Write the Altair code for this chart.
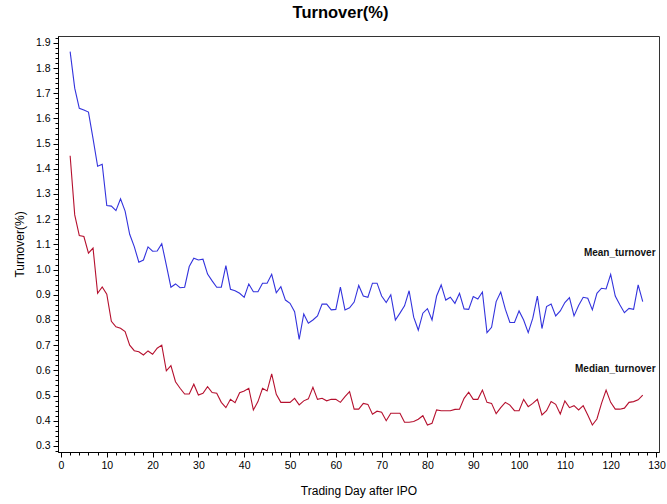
import altair as alt
import pandas as pd

days = list(range(2, 128))

mean_turnover = [
    1.865, 1.72, 1.64, 1.633, 1.625, 1.52, 1.41, 1.418, 1.254, 1.252,
    1.234, 1.281, 1.232, 1.14, 1.091, 1.029, 1.038, 1.09, 1.073, 1.074,
    1.103, 1.018, 0.93, 0.943, 0.928, 0.93, 1.012, 1.045, 1.038, 1.041,
    0.982, 0.955, 0.93, 0.93, 1.016, 0.922, 0.916, 0.906, 0.89, 0.943,
    0.912, 0.912, 0.946, 0.946, 0.981, 0.908, 0.932, 0.879, 0.866, 0.833,
    0.723, 0.824, 0.787, 0.80, 0.816, 0.863, 0.863, 0.84, 0.842, 0.93,
    0.84, 0.848, 0.871, 0.937, 0.895, 0.89, 0.946, 0.946, 0.895, 0.869,
    0.90, 0.80, 0.827, 0.856, 0.916, 0.811, 0.76, 0.827, 0.845, 0.80,
    0.895, 0.939, 0.879, 0.89, 0.866, 0.906, 0.844, 0.842, 0.893, 0.883,
    0.911, 0.75, 0.771, 0.873, 0.911, 0.843, 0.79, 0.79, 0.836, 0.80,
    0.75, 0.807, 0.895, 0.766, 0.853, 0.863, 0.816, 0.836, 0.869, 0.889,
    0.816, 0.857, 0.89, 0.886, 0.84, 0.906, 0.926, 0.923, 0.981, 0.895,
    0.86, 0.829, 0.846, 0.842, 0.939, 0.873,
]

median_turnover = [
    1.452, 1.217, 1.135, 1.131, 1.065, 1.085, 0.906, 0.931, 0.902, 0.795,
    0.773, 0.767, 0.754, 0.70, 0.678, 0.674, 0.661, 0.677, 0.664, 0.688,
    0.70, 0.598, 0.619, 0.555, 0.529, 0.506, 0.506, 0.545, 0.502, 0.509,
    0.535, 0.512, 0.509, 0.473, 0.452, 0.485, 0.472, 0.511, 0.518, 0.529,
    0.443, 0.476, 0.529, 0.518, 0.586, 0.505, 0.473, 0.473, 0.473, 0.489,
    0.463, 0.479, 0.487, 0.533, 0.485, 0.489, 0.479, 0.485, 0.485, 0.473,
    0.496, 0.516, 0.446, 0.446, 0.469, 0.465, 0.426, 0.438, 0.434, 0.40,
    0.43, 0.43, 0.43, 0.394, 0.394, 0.397, 0.406, 0.42, 0.383, 0.39,
    0.443, 0.44, 0.44, 0.44, 0.445, 0.446, 0.489, 0.513, 0.485, 0.485,
    0.522, 0.473, 0.469, 0.428, 0.452, 0.473, 0.462, 0.44, 0.44, 0.485,
    0.456, 0.469, 0.485, 0.423, 0.44, 0.476, 0.465, 0.427, 0.479, 0.452,
    0.46, 0.443, 0.46, 0.423, 0.383, 0.407, 0.469, 0.522, 0.473, 0.446,
    0.446, 0.45, 0.473, 0.476, 0.483, 0.502,
]

series_names = ["Mean_turnover", "Median_turnover"]
series_colors = ["#3333dd", "#b5102e"]

x_major_ticks = list(range(0, 131, 10))
x_minor_ticks = list(range(0, 131, 2))
y_major_ticks = [round(0.3 + 0.1 * i, 1) for i in range(17)]
y_minor_ticks = [round(0.28 + 0.02 * i, 2) for i in range(83)]

label_x = [129.8, 129.8]
label_y = [1.065, 0.605]

df = pd.DataFrame({
    "day": days + days,
    "value": mean_turnover + median_turnover,
    "series": [series_names[0]] * len(days) + [series_names[1]] * len(days),
})
labels_df = pd.DataFrame({"series": series_names, "x": label_x, "y": label_y})

FONT = "Liberation Sans"
xs = alt.Scale(domain=[-0.65, 130.55], nice=False, zero=False)
ys = alt.Scale(domain=[0.276, 1.927], nice=False, zero=False)

major_x = alt.Axis(values=x_major_ticks, orient="bottom", tickSize=5, labelPadding=3,
                   title="Trading Day after IPO", titlePadding=15, grid=False,
                   labelFontSize=10.5, titleFontSize=12, titleFontWeight="normal",
                   labelFont=FONT, titleFont=FONT, domainColor="black",
                   tickColor="black", labelColor="black", titleColor="black")
major_y = alt.Axis(values=y_major_ticks, orient="left", tickSize=5, labelPadding=3,
                   format=".1f", title="Turnover(%)", titlePadding=9, grid=False,
                   labelFontSize=10.5, titleFontSize=12, titleFontWeight="normal",
                   labelFont=FONT, titleFont=FONT, domainColor="black",
                   tickColor="black", labelColor="black", titleColor="black")
minor_x = alt.Axis(values=x_minor_ticks, orient="bottom", tickSize=3, labels=False,
                   domain=False, grid=False, title=None, tickColor="black")
minor_y = alt.Axis(values=y_minor_ticks, orient="left", tickSize=3, labels=False,
                   domain=False, grid=False, title=None, tickColor="black")

color = alt.Color("series:N", scale=alt.Scale(domain=series_names, range=series_colors),
                  legend=None)

minor = alt.Chart(df).mark_line(opacity=0).encode(
    x=alt.X("day:Q", scale=xs, axis=minor_x),
    y=alt.Y("value:Q", scale=ys, axis=minor_y),
    detail="series:N",
)

lines = alt.Chart(df).mark_line(strokeWidth=1.1).encode(
    x=alt.X("day:Q", scale=xs, axis=major_x),
    y=alt.Y("value:Q", scale=ys, axis=major_y),
    color=color,
)

texts = alt.Chart(labels_df).mark_text(
    align="right", baseline="middle", fontWeight="bold", fontSize=10, font=FONT,
    color="#111111",
).encode(
    x=alt.X("x:Q", scale=xs, axis=None),
    y=alt.Y("y:Q", scale=ys, axis=None),
    text="series:N",
)

chart = alt.layer(minor, lines, texts).resolve_axis(
    x="independent", y="independent"
).properties(
    width=601,
    height=416,
    title=alt.TitleParams("Turnover(%)", fontSize=16.5, fontWeight="bold", font=FONT,
                          anchor="middle", dx=-18, offset=15, color="black"),
    autosize=alt.AutoSizeParams(type="none"),
    padding={"left": 58, "top": 36, "right": 8, "bottom": 52},
).configure_view(stroke="#333333", strokeWidth=1)

chart.save("out.html", embed_options={"renderer": "svg", "actions": False})
